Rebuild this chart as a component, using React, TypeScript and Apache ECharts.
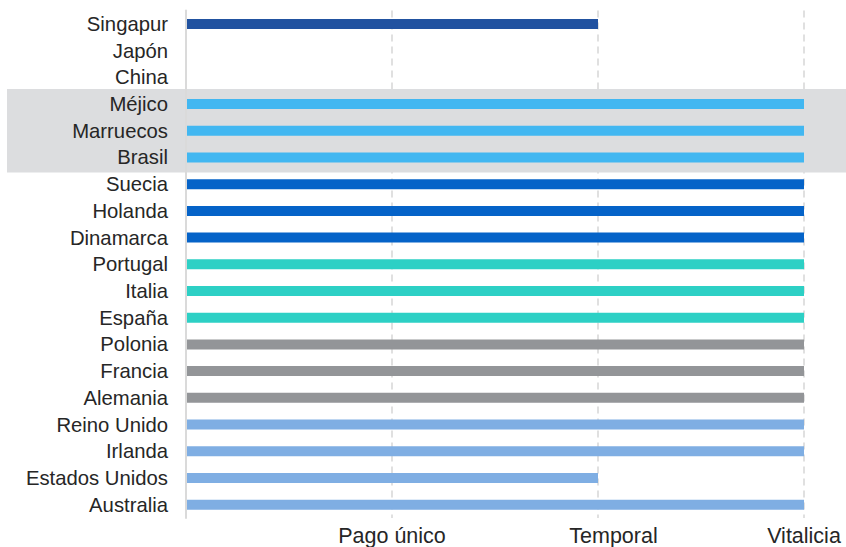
import React, { useEffect, useRef } from "react";
import * as echarts from "echarts";

const categories = [
  "Singapur", "Japón", "China", "Méjico", "Marruecos", "Brasil",
  "Suecia", "Holanda", "Dinamarca", "Portugal", "Italia", "España",
  "Polonia", "Francia", "Alemania", "Reino Unido", "Irlanda",
  "Estados Unidos", "Australia",
];
// 0 = none, 1 = Pago único, 2 = Temporal, 3 = Vitalicia
const values = [2, 0, 0, 3, 3, 3, 3, 3, 3, 3, 3, 3, 3, 3, 3, 3, 3, 2, 3];
const groups = [0, 0, 0, 1, 1, 1, 2, 2, 2, 3, 3, 3, 4, 4, 4, 5, 5, 5, 5];
const xTickLabels = ["", "Pago único", "Temporal", "Vitalicia"];
const highlighted = ["Méjico", "Marruecos", "Brasil"];

const groupColors = ["#2152a0", "#42b7f1", "#0563c8", "#2dd0c5", "#939598", "#7faee3"];
// horizontal nudge (px, left padding) of each x tick label, as in the reference
const xLabelShift = [0, 0, 31, 0];
const FONT = "'Liberation Sans', Arial, Helvetica, sans-serif";
const W = 846;
const H = 547;

export default function App() {
  const ref = useRef<HTMLDivElement>(null);
  useEffect(() => {
    if (!ref.current) return;
    const chart = echarts.init(ref.current, undefined, { renderer: "svg", width: W, height: H });
    const rich: Record<string, any> = {};
    xLabelShift.forEach((s, i) => {
      rich["l" + i] = {
        color: "#262626",
        fontSize: 21.5,
        fontFamily: FONT,
        padding: [0, 0, 0, s],
      };
    });
    chart.setOption({
      animation: false,
      grid: { left: 186, right: 42, top: 10.6, bottom: 26.9, containLabel: false },
      xAxis: {
        type: "value",
        min: 0,
        max: 3,
        interval: 1,
        z: 0,
        axisLine: { show: false },
        axisTick: { show: false },
        axisLabel: {
          formatter: (v: number) => {
            const i = Math.round(v);
            const t = xTickLabels[i] ?? "";
            return t ? `{l${i}|${t}}` : "";
          },
          rich,
          color: "#262626",
          fontSize: 21.5,
          fontFamily: FONT,
          margin: 7,
          showMaxLabel: true,
          hideOverlap: false,
        },
        splitLine: {
          show: true,
          lineStyle: { color: "#e0e0e0", width: 2, type: [7, 5] },
        },
      },
      yAxis: {
        type: "category",
        data: categories,
        inverse: true,
        z: 3,
        axisLine: { show: true, lineStyle: { color: "#dadada", width: 2 } },
        axisTick: { show: false },
        axisLabel: {
          color: "#262626",
          fontSize: 20.3,
          fontFamily: FONT,
          margin: 18,
          interval: 0,
        },
        splitLine: { show: false },
      },
      series: [
        {
          type: "bar",
          barWidth: 10,
          z: 2,
          data: values.map((v, i) => ({
            value: v,
            itemStyle: { color: groupColors[groups[i]] },
          })),
        },
      ],
    });

    const idx = highlighted.map((c) => categories.indexOf(c));
    const first = Math.min(...idx);
    const last = Math.max(...idx);
    const p0 = chart.convertToPixel({ yAxisIndex: 0 }, categories[0]) as number;
    const p1 = chart.convertToPixel({ yAxisIndex: 0 }, categories[1]) as number;
    const step = Math.abs(p1 - p0);
    const top = (chart.convertToPixel({ yAxisIndex: 0 }, categories[first]) as number) - step * 0.56;
    const bottom = (chart.convertToPixel({ yAxisIndex: 0 }, categories[last]) as number) + step * 0.56;
    chart.setOption({
      graphic: [
        {
          type: "rect",
          z: 1,
          silent: true,
          shape: { x: 7, y: top, width: W - 7, height: bottom - top },
          style: { fill: "#dcdddf" },
        },
      ],
    });

    return () => chart.dispose();
  }, []);
  return (
    <div
      ref={ref}
      style={{ position: "fixed", left: 0, top: 0, width: W, height: H, background: "#fff" }}
    />
  );
}
